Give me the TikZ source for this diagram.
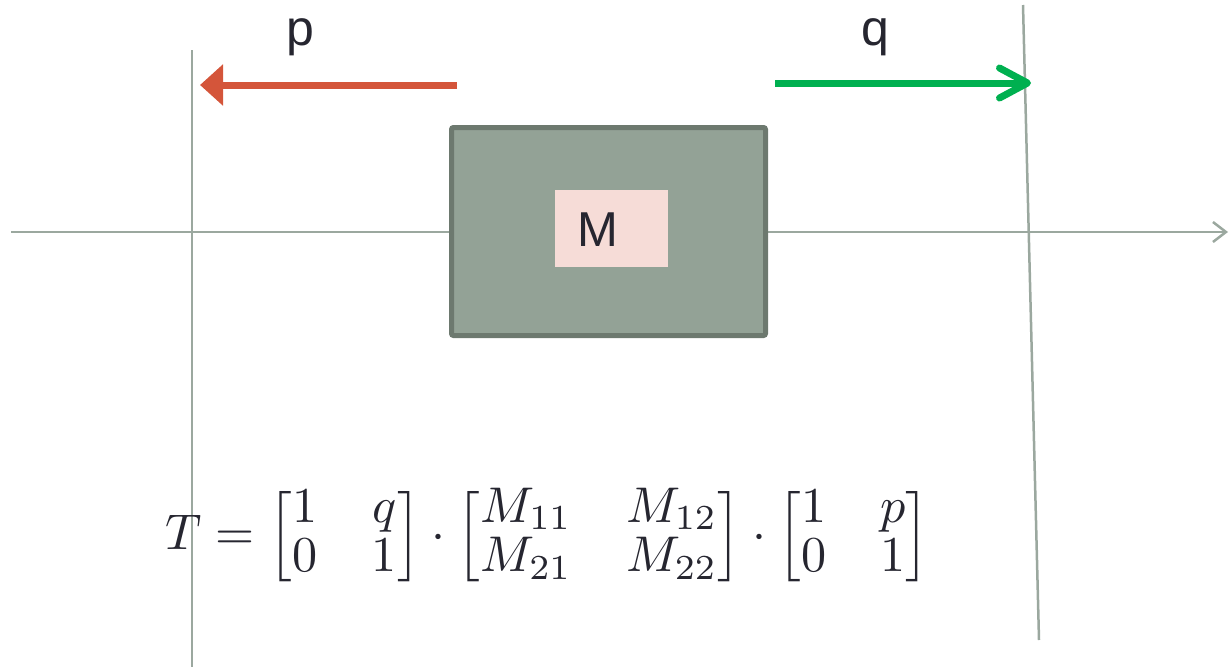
\documentclass[tikz,border=0pt]{standalone}
\usepackage{amsmath}
\usepackage{fontspec}
\newfontfamily\labelsans{Liberation Sans}
\usetikzlibrary{arrows.meta,positioning}

\begin{document}
\begin{tikzpicture}[
    x=1pt, y=-1pt,
    every node/.style={text=inkdark},
    axisline/.style={axisgrey, line width=2.5pt},
    mbox/.style={draw=boxedge, fill=boxfill, line width=5pt, rounded corners=2pt,
      minimum width=314pt, minimum height=208pt, inner sep=0pt},
    mpatch/.style={fill=pinkfill, inner xsep=22pt, inner ysep=0pt, text width=69pt,
      minimum height=77pt, text height=36pt, text depth=0pt,
      font={\labelsans\fontsize{49}{60}\selectfont}},
    flowlabel/.style={font={\labelsans\fontsize{50}{60}\selectfont}, inner sep=0pt},
    formula/.style={inner sep=0pt, scale=5.02, transform shape,
      font={\fontsize{10}{12}\selectfont\arraycolsep=5.4pt\def\arraystretch{0.82}}},
  ]
    \definecolor{axisgrey}{HTML}{9BA89F}
    \definecolor{boxfill}{HTML}{93A296}
    \definecolor{boxedge}{HTML}{6D796F}
    \definecolor{pinkfill}{HTML}{F6DCD7}
    \definecolor{arrowred}{HTML}{D4553A}
    \definecolor{arrowgreen}{HTML}{00B050}
    \definecolor{inkdark}{HTML}{262630}

    \useasboundingbox (0,0) rectangle (1229,667);

    % ============ axis and reference planes ============
    \coordinate (axleft) at (11,232);
    \coordinate (axright) at (1228,232);
    \draw[axisline, -{Straight Barb[length=13pt,width=20pt]}] (axleft) -- (axright);
    \coordinate (ltop) at (192,50);
    \coordinate (lbot) at (192,667);
    \draw[axisline] (ltop) -- (lbot);
    \coordinate (rtop) at (1023,5);
    \coordinate (rbot) at (1039,640);
    \draw[axisline] (rtop) -- (rbot);

    % ============ element M ============
    \node[mbox] (mblock) at (608.5,231.5) {};
    \node[mpatch] (mtag) at (611.5,228.5) {M};

    % ============ shifts p and q ============
    \coordinate (pstart) at (457,85);
    \coordinate (pend) at (200,85);
    \draw[arrowred, line width=7pt, -{Triangle[length=23pt,width=40pt]}]
      (pstart) -- (pend);
    \node[flowlabel, anchor=base] (plab) at (300,45) {p};

    \coordinate (qstart) at (775,83);
    \coordinate (qend) at (1031,83);
    \draw[arrowgreen, line width=7pt, -{Straight Barb[length=28pt,width=30pt,round]}]
      (qstart) -- (qend);
    \node[flowlabel, anchor=base] (qlab) at (875,45) {q};

    % ============ transfer matrix ============
    \node[formula] (tmat) at (547.5,537)
      {$T=\begin{bmatrix}1&q\\0&1\end{bmatrix}\cdot
        \begin{bmatrix}M_{11}&M_{12}\\M_{21}&M_{22}\end{bmatrix}\cdot
        \begin{bmatrix}1&p\\0&1\end{bmatrix}$};
  \end{tikzpicture}
\end{document}
